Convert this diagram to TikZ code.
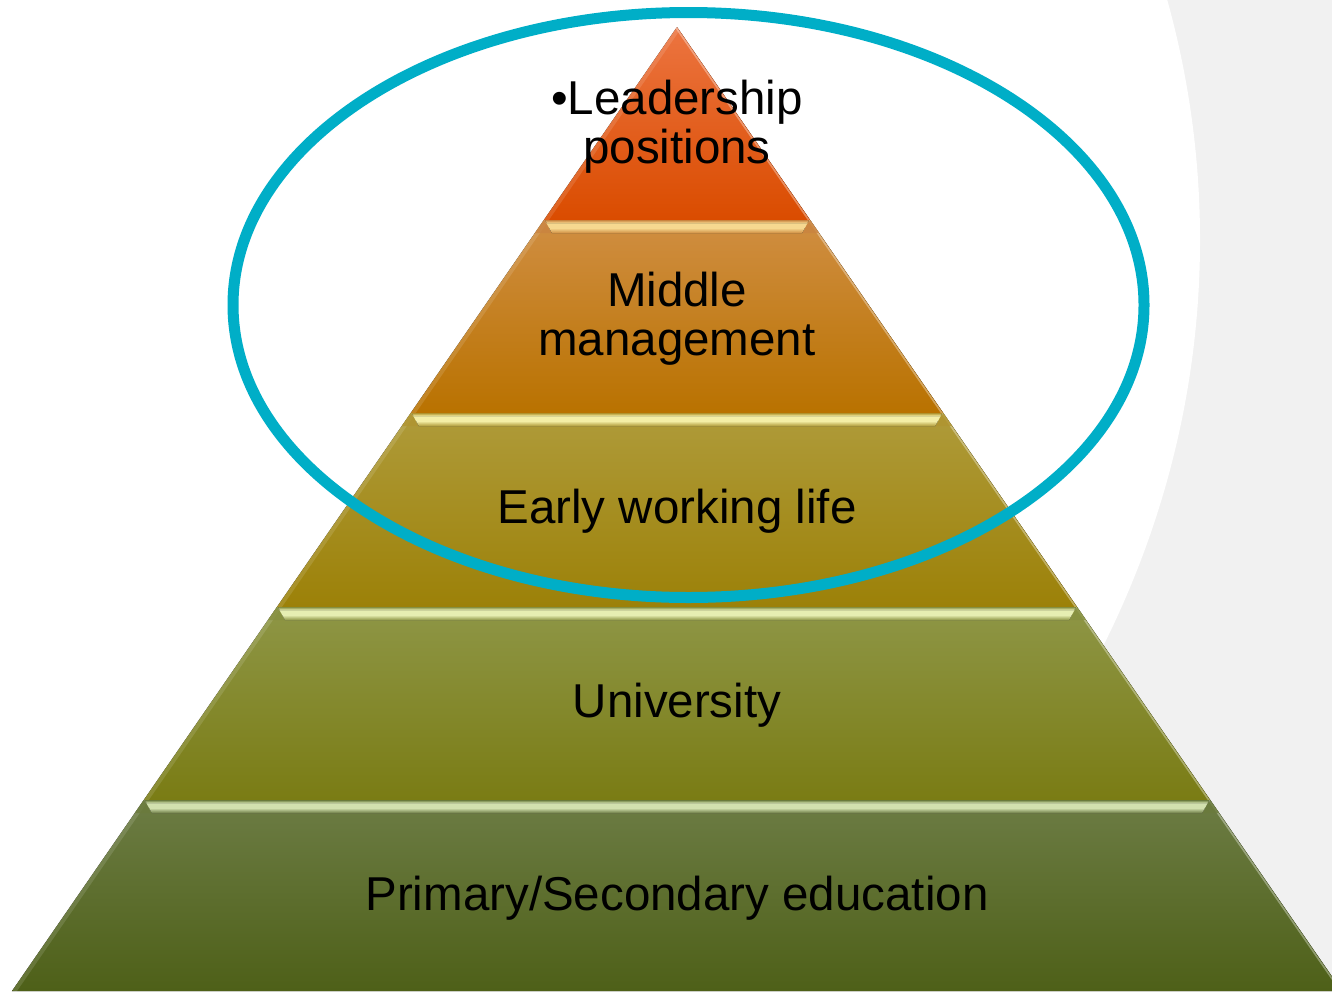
\documentclass[tikz,border=0pt]{standalone}
\usepackage{fontspec}
\setmainfont{Liberation Sans}
% page and ring
\definecolor{pagegray}{HTML}{F1F1F1}
\definecolor{ringteal}{HTML}{00AEC7}
% layer shades (top / bottom)
\definecolor{lvAa}{HTML}{EC7440}
\definecolor{lvAb}{HTML}{DA4C00}
\definecolor{lvBa}{HTML}{D08E42}
\definecolor{lvBb}{HTML}{B97200}
\definecolor{lvCa}{HTML}{AF9B3A}
\definecolor{lvCb}{HTML}{9C8108}
\definecolor{lvDa}{HTML}{8E9646}
\definecolor{lvDb}{HTML}{7A7C14}
\definecolor{lvEa}{HTML}{6C7C44}
\definecolor{lvEb}{HTML}{4E6018}
% bevel highlights (edge / glow)
\definecolor{hlBa}{HTML}{C98440}
\definecolor{hlBb}{HTML}{F6D890}
\definecolor{hlCa}{HTML}{B09430}
\definecolor{hlCb}{HTML}{F4EEA6}
\definecolor{hlDa}{HTML}{869040}
\definecolor{hlDb}{HTML}{E6EEB2}
\definecolor{hlEa}{HTML}{6A7A3C}
\definecolor{hlEb}{HTML}{D2E0AE}
\begin{document}
\begin{tikzpicture}[x=1pt,y=-1pt,
  tier/.style={anchor=base, inner sep=0pt, text=black,
    font=\fontsize{47.5}{49}\selectfont},
  ring/.style={draw=ringteal, line width=11pt},
]
\useasboundingbox (0,0) rectangle (1332,991);
\begin{scope}
  \clip (0,0) rectangle (1332,991);
  % backdrop: grey page with a large white oval
  \fill[pagegray] (0,0) rectangle (1332,991);
  \fill[white] (0,240) ellipse [x radius=1200pt, y radius=1030pt];

  % pyramid tiers, apex at (677,27), half width grows 0.68983 per unit down
  \foreach \ya/\yb/\ca/\cb in {27/220/lvAa/lvAb, 220/413/lvBa/lvBb,
      413/607/lvCa/lvCb, 607/800/lvDa/lvDb, 800/991/lvEa/lvEb} {
    \pgfmathsetmacro\wa{0.68983*(\ya-27)}
    \pgfmathsetmacro\wb{0.68983*(\yb-27)}
    \fill[top color=\ca, bottom color=\cb]
      (677-\wa,\ya) -- (677+\wa,\ya) -- (677+\wb,\yb) -- (677-\wb,\yb) -- cycle;
    % soft light along the slanted sides
    \draw[white, opacity=0.12, line width=5pt]
      (677-\wa+2,\ya) -- (677-\wb+2,\yb);
    \draw[white, opacity=0.35, line width=1.6pt]
      (677+\wa-1.5,\ya) -- (677+\wb-1.5,\yb);
  }

  % bevelled highlight strip on top of each lower tier
  \foreach \ya/\ha/\hb/\cl in {220/hlBa/hlBb/lvBa, 413/hlCa/hlCb/lvCa,
      607/hlDa/hlDb/lvDa, 800/hlEa/hlEb/lvEa} {
    \pgfmathsetmacro\wa{0.68983*(\ya-27)}
    % end facets of the bevel
    \fill[\ha, opacity=0.8]
      (677-\wa,\ya) -- (677-\wa+8,\ya+13) -- (677-\wa-9,\ya+13) -- cycle;
    \fill[\ha, opacity=0.8]
      (677+\wa,\ya) -- (677+\wa-8,\ya+13) -- (677+\wa+9,\ya+13) -- cycle;
    % glowing face
    \fill[\hb]
      (677-\wa+1,\ya) -- (677+\wa-1,\ya) -- (677+\wa-8,\ya+13)
      -- (677-\wa+8,\ya+13) -- cycle;
    % darker rim above, fading into the tier below
    \fill[top color=\ha, bottom color=\hb]
      (677-\wa+1,\ya) -- (677+\wa-1,\ya) -- (677+\wa-2.8,\ya+3)
      -- (677-\wa+2.8,\ya+3) -- cycle;
    \fill[top color=\hb, bottom color=\cl]
      (677-\wa+5.5,\ya+8) -- (677+\wa-5.5,\ya+8) -- (677+\wa-8,\ya+13)
      -- (677-\wa+8,\ya+13) -- cycle;
  }
\end{scope}

% tier labels
\node[tier] (lead1) at (677,114) {•Leadership};
\node[tier] (lead2) at (677,163) {positions};
\node[tier] (mid1)  at (677,306) {Middle};
\node[tier] (mid2)  at (677,355) {management};
\node[tier] (early) at (677,523) {Early working life};
\node[tier] (uni)   at (677,717) {University};
\node[tier] (prim)  at (677,910) {Primary/Secondary education};

% highlight ring round the upper tiers
\draw[ring] (688.5,305) ellipse [x radius=455.5pt, y radius=292.5pt];
\end{tikzpicture}
\end{document}
